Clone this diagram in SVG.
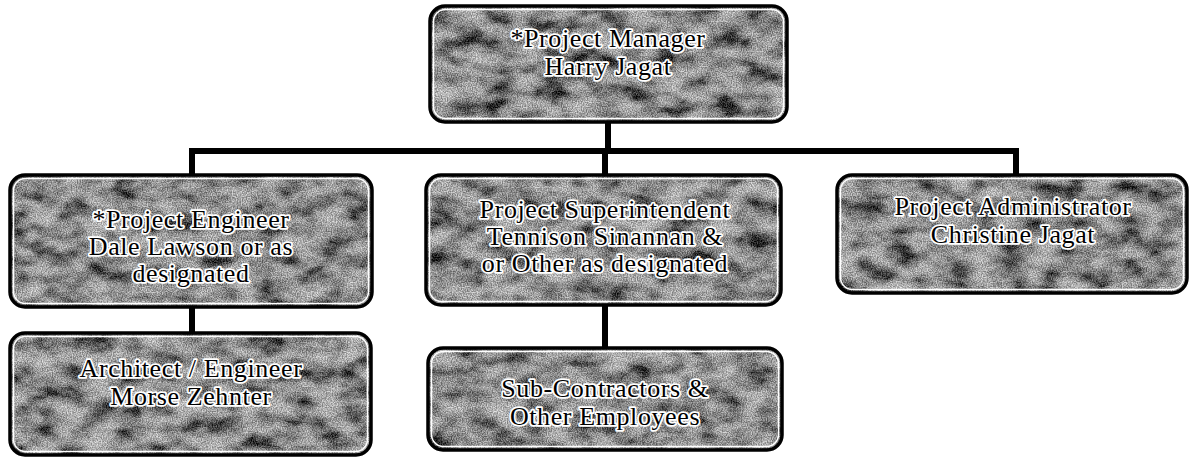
<svg xmlns="http://www.w3.org/2000/svg" width="1193" height="457" viewBox="0 0 1193 457">
<defs>
<filter id="tex" x="0" y="0" width="1" height="1" color-interpolation-filters="sRGB">
  <feTurbulence type="fractalNoise" baseFrequency="0.035 0.06" numOctaves="3" seed="7" result="big"/>
  <feColorMatrix in="big" type="matrix" values="1 0 0 0 0  1 0 0 0 0  1 0 0 0 0  0 0 0 0 1" result="bg"/>
  <feComponentTransfer in="bg" result="bc">
    <feFuncR type="table" tableValues="0.05 0.15 0.5 0.72 0.82 0.88"/>
    <feFuncG type="table" tableValues="0.05 0.15 0.5 0.72 0.82 0.88"/>
    <feFuncB type="table" tableValues="0.05 0.15 0.5 0.72 0.82 0.88"/>
  </feComponentTransfer>
  <feTurbulence type="fractalNoise" baseFrequency="0.8" numOctaves="1" seed="3" result="fine"/>
  <feColorMatrix in="fine" type="matrix" values="1 0 0 0 0  1 0 0 0 0  1 0 0 0 0  0 0 0 0 1" result="fg"/>
  <feComponentTransfer in="fg" result="fc">
    <feFuncR type="linear" slope="2.5" intercept="-0.75"/>
    <feFuncG type="linear" slope="2.5" intercept="-0.75"/>
    <feFuncB type="linear" slope="2.5" intercept="-0.75"/>
  </feComponentTransfer>
  <feComposite in="bc" in2="fc" operator="arithmetic" k1="0" k2="0.85" k3="0.35" k4="-0.15" result="mix"/>
  <feComposite in="mix" in2="SourceGraphic" operator="in"/>
</filter>
</defs>
<style>
  .fill { fill: #888; filter: url(#tex); }
  .border { fill: none; stroke: #000; stroke-width: 3.5; }
  .inner { fill: none; stroke: #fff; stroke-width: 1.5; }
  .lbl { font-family: "Liberation Serif", "Times New Roman", serif; font-size: 26px; letter-spacing: 0.6px; text-anchor: middle; fill: #000; stroke: #fff; stroke-width: 3.5px; stroke-linejoin: round; paint-order: stroke fill; }
  .conn { fill: none; stroke: #000; stroke-width: 6; stroke-linejoin: miter; stroke-linecap: butt; }
</style>
<rect width="1193" height="457" fill="#fff"/>

<g id="connectors">
  <path class="conn" d="M608 122 V151"/>
  <path class="conn" d="M192 175 V151 H1016 V175"/>
  <path class="conn" d="M605 151 V175"/>
  <path class="conn" d="M192 307 V333"/>
  <path class="conn" d="M605 305 V348"/>
</g>

<g id="project-manager">
  <rect class="fill" x="430" y="6" width="357" height="116" rx="15"/>
  <rect class="inner" x="433.5" y="9.5" width="350" height="109" rx="12"/>
  <rect class="border" x="430" y="6" width="357" height="116" rx="15"/>
  <text class="lbl" x="608" y="47">*Project Manager</text>
  <text class="lbl" x="608" y="75">Harry Jagat</text>
</g>

<g id="project-engineer">
  <rect class="fill" x="10" y="175" width="362" height="132" rx="15"/>
  <rect class="inner" x="13.5" y="178.5" width="355" height="125" rx="12"/>
  <rect class="border" x="10" y="175" width="362" height="132" rx="15"/>
  <text class="lbl" x="191" y="228">*Project Engineer</text>
  <text class="lbl" x="191" y="255">Dale Lawson or as</text>
  <text class="lbl" x="191" y="282">designated</text>
</g>

<g id="project-superintendent">
  <rect class="fill" x="426" y="175" width="355" height="130" rx="15"/>
  <rect class="inner" x="429.5" y="178.5" width="348" height="123" rx="12"/>
  <rect class="border" x="426" y="175" width="355" height="130" rx="15"/>
  <text class="lbl" x="605" y="218">Project Superintendent</text>
  <text class="lbl" x="605" y="245">Tennison Sinannan &amp;</text>
  <text class="lbl" x="605" y="272">or Other as designated</text>
</g>

<g id="project-administrator">
  <rect class="fill" x="837" y="175" width="350" height="118" rx="15"/>
  <rect class="inner" x="840.5" y="178.5" width="343" height="111" rx="12"/>
  <rect class="border" x="837" y="175" width="350" height="118" rx="15"/>
  <text class="lbl" x="1013" y="215">Project Administrator</text>
  <text class="lbl" x="1013" y="243">Christine Jagat</text>
</g>

<g id="architect-engineer">
  <rect class="fill" x="10" y="333" width="361" height="122" rx="15"/>
  <rect class="inner" x="13.5" y="336.5" width="354" height="115" rx="12"/>
  <rect class="border" x="10" y="333" width="361" height="122" rx="15"/>
  <text class="lbl" x="191" y="377">Architect / Engineer</text>
  <text class="lbl" x="191" y="405">Morse Zehnter</text>
</g>

<g id="sub-contractors">
  <rect class="fill" x="428" y="348" width="354" height="102" rx="15"/>
  <rect class="inner" x="431.5" y="351.5" width="347" height="95" rx="12"/>
  <rect class="border" x="428" y="348" width="354" height="102" rx="15"/>
  <text class="lbl" x="605" y="397">Sub-Contractors &amp;</text>
  <text class="lbl" x="605" y="425">Other Employees</text>
</g>
</svg>
